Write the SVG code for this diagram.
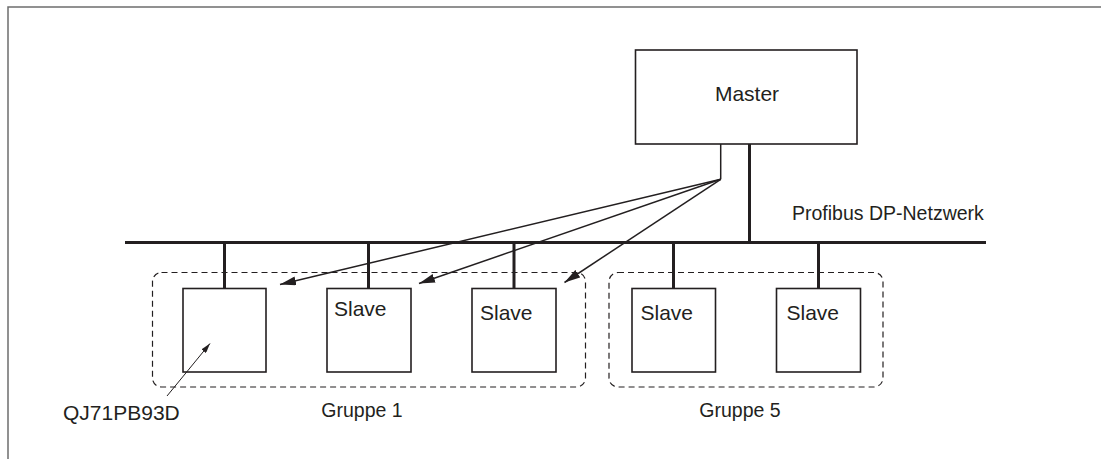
<svg xmlns="http://www.w3.org/2000/svg" width="1101" height="459" viewBox="0 0 1101 459">
  <style>
    .lbl { font-family: "Liberation Sans", Arial, sans-serif; font-size: 21px; fill: #231f20; }
    .cap { font-family: "Liberation Sans", Arial, sans-serif; font-size: 19.5px; fill: #231f20; }
    .box { fill: #fff; stroke: #231f20; stroke-width: 1.6; }
    .bus { stroke: #231f20; stroke-width: 3; fill: none; }
    .grp { fill: none; stroke: #231f20; stroke-width: 1.2; stroke-dasharray: 6 4; }
    .ptr { stroke: #231f20; stroke-width: 1.5; fill: none; marker-end: url(#head); }
    .ptr-thin { stroke: #231f20; stroke-width: 1; fill: none; marker-end: url(#head-sm); }
  </style>
  <defs>
    <marker id="head" viewBox="0 0 16 9" refX="16" refY="4.5" markerWidth="16" markerHeight="9" markerUnits="userSpaceOnUse" orient="auto">
      <path d="M0,0 L16,4.5 L0,9 z" fill="#231f20"/>
    </marker>
    <marker id="head-sm" viewBox="0 0 10 6" refX="10" refY="3" markerWidth="10" markerHeight="6" markerUnits="userSpaceOnUse" orient="auto">
      <path d="M0,0 L10,3 L0,6 z" fill="#231f20"/>
    </marker>
  </defs>

  <rect width="1101" height="459" fill="#fff"/>
  <!-- page frame -->
  <path d="M8,459 V7 H1101" fill="none" stroke="#6d6d6d" stroke-width="1.5"/>

  <!-- group outlines -->
  <g id="gruppe1">
    <rect class="grp" x="152.5" y="272.5" width="433" height="114.5" rx="9"/>
    <text class="cap" x="362" y="417" text-anchor="middle">Gruppe 1</text>
  </g>
  <g id="gruppe5">
    <rect class="grp" x="609" y="272.5" width="274" height="114.5" rx="9"/>
    <text class="cap" x="740" y="417" text-anchor="middle">Gruppe 5</text>
  </g>

  <g id="master">
    <rect class="box" x="635.5" y="50" width="221.5" height="94"/>
    <text class="lbl" x="747" y="101" text-anchor="middle">Master</text>
  </g>

  <g id="qj71pb93d">
    <rect class="box" x="183" y="288.5" width="83" height="83.5"/>
    <text class="lbl" x="63" y="420">QJ71PB93D</text>
  </g>
  <g id="slave1">
    <rect class="box" x="327" y="288.5" width="84" height="83.5"/>
    <text class="lbl" x="334" y="316">Slave</text>
  </g>
  <g id="slave2">
    <rect class="box" x="472" y="288.5" width="84" height="83.5"/>
    <text class="lbl" x="480" y="320">Slave</text>
  </g>
  <g id="slave3">
    <rect class="box" x="632" y="288.5" width="83.5" height="83.5"/>
    <text class="lbl" x="640.5" y="320">Slave</text>
  </g>
  <g id="slave4">
    <rect class="box" x="776.5" y="288.5" width="84" height="83.5"/>
    <text class="lbl" x="786.5" y="320">Slave</text>
  </g>

  <!-- connectors: bus, drops and pointers -->
  <g id="connectors">
    <line class="bus" x1="125" y1="242.5" x2="986" y2="242.5"/>
    <line class="bus" x1="749.5" y1="144" x2="749.5" y2="242.5"/>
    <line class="bus" x1="224.5" y1="242.5" x2="224.5" y2="288"/>
    <line class="bus" x1="368.5" y1="242.5" x2="368.5" y2="288"/>
    <line class="bus" x1="514" y1="242.5" x2="514" y2="288"/>
    <line class="bus" x1="673.5" y1="242.5" x2="673.5" y2="288"/>
    <line class="bus" x1="818.5" y1="242.5" x2="818.5" y2="288"/>
    <polyline points="720.7,144 720.7,179.3" stroke="#231f20" stroke-width="1.5" fill="none"/>
    <line class="ptr" x1="720.7" y1="179.3" x2="280" y2="284.5"/>
    <line class="ptr" x1="720.7" y1="179.3" x2="419" y2="283.5"/>
    <line class="ptr" x1="720.7" y1="179.3" x2="564.5" y2="282.5"/>
    <line class="ptr-thin" x1="167" y1="396" x2="210" y2="343.5"/>
    <text class="cap" x="792" y="220">Profibus DP-Netzwerk</text>
  </g>
</svg>
